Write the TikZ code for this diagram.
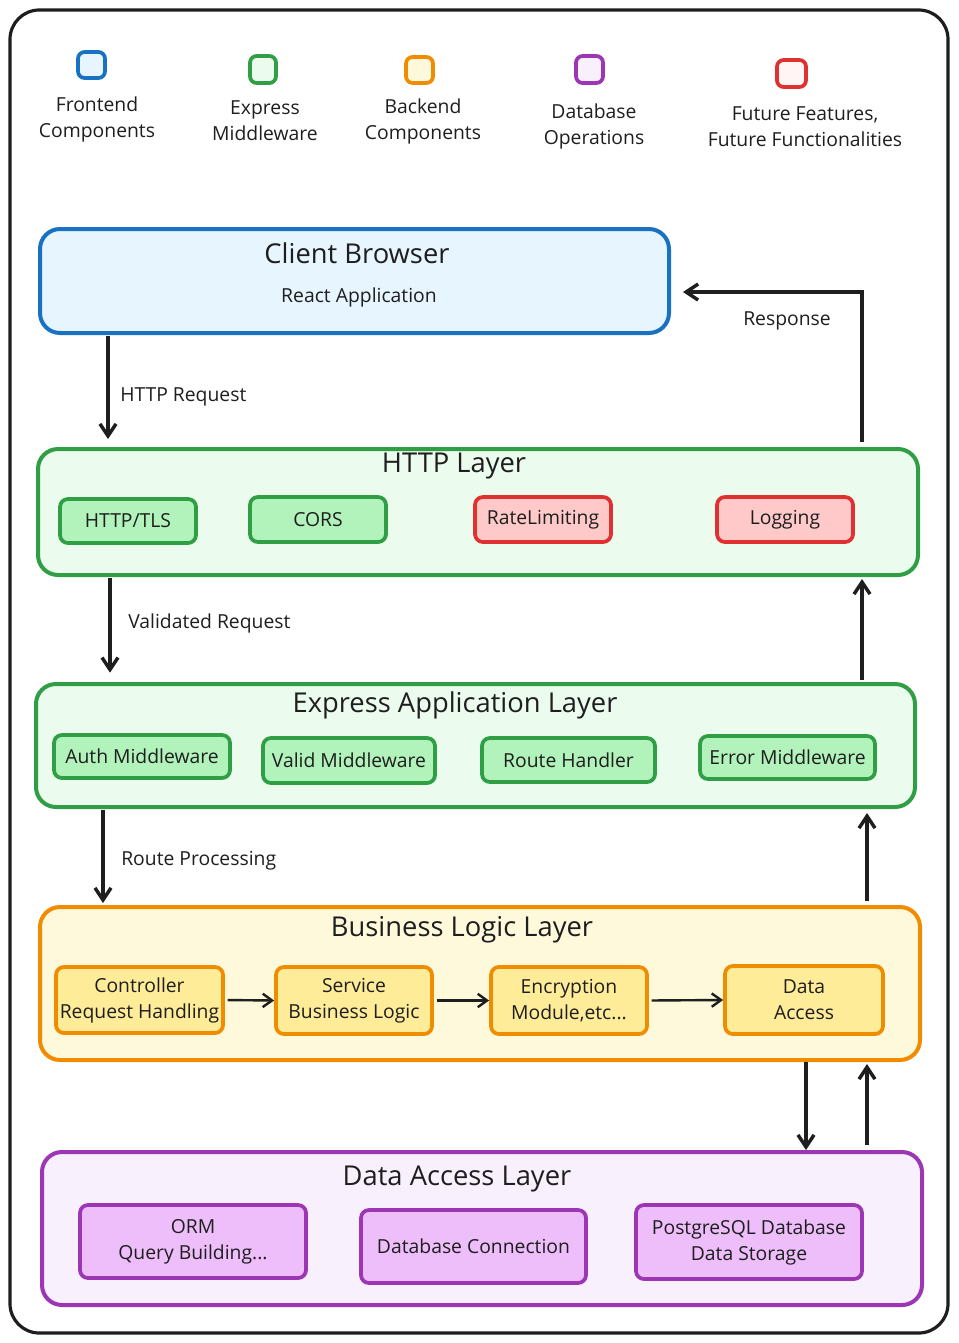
\documentclass[tikz,border=0pt]{standalone}
\usepackage{fontspec}
\setmainfont{Open Sans}
\usetikzlibrary{fit,arrows.meta,calc}
\definecolor{ink}{HTML}{1E1E1E}
\definecolor{bS}{HTML}{1971C2}\definecolor{bF}{HTML}{E7F5FF}
\definecolor{gS}{HTML}{2F9E44}\definecolor{gF}{HTML}{EBFBEE}\definecolor{gI}{HTML}{B2F2BB}
\definecolor{oS}{HTML}{F08C00}\definecolor{oF}{HTML}{FFF9DB}\definecolor{oI}{HTML}{FFEC99}
\definecolor{pS}{HTML}{9C36B5}\definecolor{pF}{HTML}{F8F0FC}\definecolor{pI}{HTML}{EEBEFA}
\definecolor{rS}{HTML}{E03131}\definecolor{rF}{HTML}{FFF5F5}\definecolor{rI}{HTML}{FFC9C9}
\tikzset{
  layer/.style={draw, line width=3pt, rounded corners=15pt, inner sep=0pt},
  item/.style={draw, line width=2.8pt, rounded corners=6pt, inner sep=0pt},
  legsq/.style={draw, line width=2.8pt, rounded corners=5pt, inner sep=0pt},
  txt/.style={text=ink, align=center, font=\fontsize{14.5}{19.5}\selectfont, inner sep=0pt},
  ttl/.style={text=ink, font=\fontsize{20.5}{24}\selectfont, inner sep=0pt},
  arr/.style={draw=ink, line width=2.6pt, -{Straight Barb[length=9pt,width=12pt]}},
  sarr/.style={draw=ink, line width=1.8pt, -{Straight Barb[length=7pt,width=10pt]}},
  tl/.style={label={[txt]center:#1}},
}
\begin{document}
\begin{tikzpicture}[x=0.75pt,y=-0.75pt]
\useasboundingbox (0,0) rectangle (958,1343);
\draw[ink, line width=2.4pt, rounded corners=22pt] (10,10) rectangle (948,1333);

% legend
\node[legsq, draw=bS, fill=bF, fit={(78,52) (105,78)}] (lgF) {};
\node[legsq, draw=gS, fill=gF, fit={(250,56) (276,83)}] (lgE) {};
\node[legsq, draw=oS, fill=oF, fit={(406,57) (433,83)}] (lgB) {};
\node[legsq, draw=pS, fill=pF, fit={(576,56) (603,83)}] (lgD) {};
\node[legsq, draw=rS, fill=rF, fit={(777,60) (806,87)}] (lgX) {};
\node[txt] (ltF) at (97,119) {Frontend\\Components};
\node[txt] (ltE) at (265,121) {Express\\Middleware};
\node[txt] (ltB) at (423,121) {Backend\\Components};
\node[txt] (ltD) at (594,126) {Database\\Operations};
\node[txt] (ltX) at (805,127) {Future Features,\\Future Functionalities};

% client
\node[layer, draw=bS, fill=bF, fit={(40,229) (669,333)}] (client) {};
\node[ttl] (clientT) at (357,253) {Client Browser};
\node[txt] (clientS) at (359,297) {React Application};

% HTTP layer
\node[layer, draw=gS, fill=gF, fit={(38,449) (918,575)}] (http) {};
\node[ttl] (httpT) at (454,466) {HTTP Layer};
\node[item, draw=gS, fill=gI, fit={(60,499) (196,543)}, tl={HTTP/TLS}] (tls) {};
\node[item, draw=gS, fill=gI, fit={(250,497) (386,542)}, tl={CORS}] (cors) {};
\node[item, draw=rS, fill=rI, fit={(475,497) (611,542)}, tl={RateLimiting}] (rate) {};
\node[item, draw=rS, fill=rI, fit={(717,497) (853,542)}, tl={Logging}] (logg) {};

% Express layer
\node[layer, draw=gS, fill=gF, fit={(36,684) (915,807)}] (express) {};
\node[ttl] (expressT) at (455,705) {Express Application Layer};
\node[item, draw=gS, fill=gI, fit={(54,735) (230,778)}, tl={Auth Middleware}] (auth) {};
\node[item, draw=gS, fill=gI, fit={(263,738) (435,783)}, tl={Valid Middleware}] (valid) {};
\node[item, draw=gS, fill=gI, fit={(482,738) (655,782)}, tl={Route Handler}] (route) {};
\node[item, draw=gS, fill=gI, fit={(700,736) (875,779)}, tl={Error Middleware}] (errm) {};

% Business layer
\node[layer, draw=oS, fill=oF, fit={(40,907) (920,1060)}] (business) {};
\node[ttl] (businessT) at (462,930) {Business Logic Layer};
\node[item, draw=oS, fill=oI, fit={(56,967) (223,1033)}, tl={Controller\\Request Handling}] (ctrl) {};
\node[item, draw=oS, fill=oI, fit={(276,967) (432,1034)}, tl={Service\\Business Logic}] (svc) {};
\node[item, draw=oS, fill=oI, fit={(491,967) (647,1034)}, tl={Encryption\\Module,etc...}] (enc) {};
\node[item, draw=oS, fill=oI, fit={(725,966) (883,1034)}, tl={Data\\Access}] (da) {};

% Data access layer
\node[layer, draw=pS, fill=pF, fit={(42,1152) (922,1305)}] (dal) {};
\node[ttl] (dalT) at (457,1179) {Data Access Layer};
\node[item, draw=pS, fill=pI, fit={(80,1205) (306,1278)}, tl={ORM\\Query Building...}] (orm) {};
\node[item, draw=pS, fill=pI, fit={(361,1210) (586,1283)}, tl={Database Connection}] (dbc) {};
\node[item, draw=pS, fill=pI, fit={(636,1205) (862,1279)}, tl={PostgreSQL Database\\Data Storage}] (pg) {};

% x-guides
\coordinate (xa) at (108,0);
\coordinate (xb) at (110,0);
\coordinate (xc) at (103,0);
\coordinate (xd) at (806,0);
\coordinate (xe) at (867,0);
\coordinate (xf) at (862,0);
\coordinate (yr) at (0,292);

% arrows down
\draw[arr, shorten <=1pt, shorten >=6pt] (client.south -| xa) -- (http.north -| xa);
\draw[arr, shorten <=1pt, shorten >=7pt] (http.south -| xb) -- (express.north -| xb);
\draw[arr, shorten <=1pt, shorten >=1.5pt] (express.south -| xc) -- (business.north -| xc);
\draw[arr, shorten >=0pt] (business.south -| xd) -- (dal.north -| xd);
% arrows up
\draw[arr, shorten <=4pt, shorten >=1.5pt] (dal.north -| xe) -- (business.south -| xe);
\draw[arr, shorten <=3pt, shorten >=3pt] (business.north -| xe) -- (express.south -| xe);
\draw[arr, shorten <=1.5pt, shorten >=1.5pt] (express.north -| xf) -- (http.south -| xf);
\draw[arr, shorten <=4pt, shorten >=9pt] (http.north -| xf) -- (yr -| xf) -- (client.east |- yr);

% inner arrows
\draw[sarr, shorten <=2pt] (ctrl.east) -- (svc.west);
\draw[sarr, shorten <=2pt] (svc.east) -- (enc.west);
\draw[sarr, shorten <=2pt] (enc.east) -- (da.west);

% labels
\node[txt, anchor=west] (lbl1) at (120,397) {HTTP Request};
\node[txt, anchor=west] (lbl2) at (128,623) {Validated Request};
\node[txt, anchor=west] (lbl3) at (121,861) {Route Processing};
\node[txt] (lbl4) at (787,321) {Response};
\end{tikzpicture}
\end{document}
